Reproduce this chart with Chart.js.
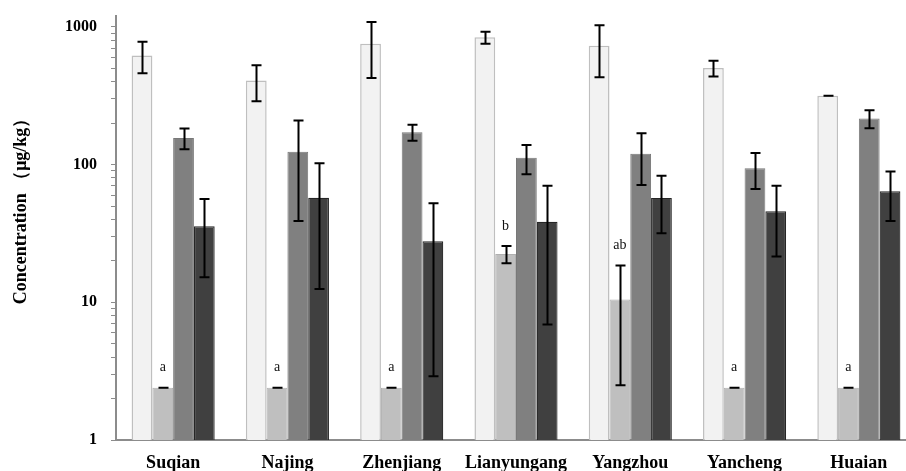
<!DOCTYPE html>
<html>
<head>
<meta charset="utf-8">
<script src="https://cdn.jsdelivr.net/npm/chart.js@4.4.1/dist/chart.umd.min.js"></script>
<style>
  body { margin: 0; overflow: hidden; background: #fff; }
  #wrap { width: 920px; height: 471px; position: relative; }
</style>
</head>
<body>
<div id="wrap"><canvas id="grafico"></canvas></div>
<script>
// datos (escala log)
const categorias = ["Suqian", "Najing", "Zhenjiang", "Lianyungang", "Yangzhou", "Yancheng", "Huaian"];
const serie1 = [620, 408, 755, 840, 730, 502, 316];
const serie1Err = [160, 119, 330, 84, 300, 65, 0];
const serie2 = [2.4, 2.4, 2.4, 22.4, 10.5, 2.4, 2.4];
const serie2Err = [0, 0, 0, 3.2, 8, 0, 0];
const serie2Letras = ["a", "a", "a", "b", "ab", "a", "a"];
const serie3 = [156, 124, 172, 112, 120, 94, 216];
const serie3Err = [27, 85, 23, 27, 49, 27.6, 32];
const serie4 = [35.7, 57.5, 27.7, 38.5, 57.3, 45.8, 64];
const serie4Err = [20.5, 45, 24.8, 31.6, 25.6, 24.3, 25];
const ticksMayores = [1, 10, 100, 1000];

const errores = [serie1Err, serie2Err, serie3Err, serie4Err];

// barras de error + letras + título del eje Y
const pluginErrores = {
  id: "errores",
  afterDatasetsDraw(chart) {
    const ctx = chart.ctx;
    const y = chart.scales.y;
    ctx.save();
    ctx.strokeStyle = "#000";
    ctx.lineWidth = 2;
    chart.data.datasets.forEach((ds, i) => {
      const meta = chart.getDatasetMeta(i);
      meta.data.forEach((bar, j) => {
        const v = ds.data[j];
        const e = errores[i][j];
        const yTop = y.getPixelForValue(v + e);
        const yBot = y.getPixelForValue(Math.max(v - e, 1));
        const x = Math.round(bar.x) + 0.5;
        ctx.beginPath();
        ctx.moveTo(x, yTop); ctx.lineTo(x, yBot);
        ctx.moveTo(x - 5, yTop); ctx.lineTo(x + 5, yTop);
        ctx.moveTo(x - 5, yBot); ctx.lineTo(x + 5, yBot);
        ctx.stroke();
        if (i === 1) {
          ctx.fillStyle = "#111";
          ctx.font = "14px 'Liberation Serif'";
          ctx.textAlign = "center";
          ctx.textBaseline = "middle";
          ctx.fillText(serie2Letras[j], bar.x, yTop - 20);
        }
      });
    });
    // título eje Y
    ctx.translate(21, 207);
    ctx.rotate(-Math.PI / 2);
    ctx.fillStyle = "#000";
    ctx.font = "bold 18px 'Liberation Serif'";
    ctx.textAlign = "center";
    ctx.textBaseline = "middle";
    ctx.fillText("Concentration （μg/kg）", 0, 0);
    ctx.restore();
  }
};

new Chart(document.getElementById("grafico").getContext("2d"), {
  type: "bar",
  data: {
    labels: categorias,
    datasets: [
      { label: "Serie 1", data: serie1, backgroundColor: "#f2f2f2", borderColor: "#bfbfbf", borderWidth: 1.5 },
      { label: "Serie 2", data: serie2, backgroundColor: "#bfbfbf", borderColor: "#b0b0b0", borderWidth: 1 },
      { label: "Serie 3", data: serie3, backgroundColor: "#808080", borderColor: "#787878", borderWidth: 1 },
      { label: "Serie 4", data: serie4, backgroundColor: "#404040", borderColor: "#262626", borderWidth: 1.2 }
    ]
  },
  options: {
    responsive: true,
    maintainAspectRatio: false,
    animation: false,
    layout: { padding: { top: 16, right: 4, left: 0, bottom: 0 } },
    datasets: { bar: { categoryPercentage: 0.727, barPercentage: 1.0 } },
    plugins: { legend: { display: false }, tooltip: { enabled: false } },
    scales: {
      x: {
        grid: { display: false, drawTicks: false },
        border: { color: "#8c8c8c", width: 2 },
        ticks: {
          color: "#000",
          padding: 13,
          font: { family: "'Liberation Serif'", size: 18, weight: "bold" }
        },
        afterFit: s => { s.height = 31; s.paddingLeft = 0; s.paddingRight = 0; }
      },
      y: {
        type: "logarithmic",
        min: 1,
        max: 1200,
        grid: { drawOnChartArea: false, color: "#8c8c8c", tickLength: 5 },
        border: { color: "#8c8c8c", width: 2 },
        afterBuildTicks: s => {
          const t = [];
          [1, 10, 100].forEach(d => { for (let k = 1; k < 10; k++) t.push(d * k); });
          t.push(1000);
          s.ticks = t.map(v => ({ value: v }));
        },
        ticks: {
          autoSkip: false,
          color: "#000",
          padding: 14,
          font: { family: "'Liberation Serif'", size: 16, weight: "bold" },
          callback: v => ticksMayores.includes(v) ? String(v) : ""
        },
        afterFit: s => { s.width = 116; s.paddingTop = 0; s.paddingBottom = 0; }
      }
    }
  },
  plugins: [pluginErrores]
});
</script>
</body>
</html>
